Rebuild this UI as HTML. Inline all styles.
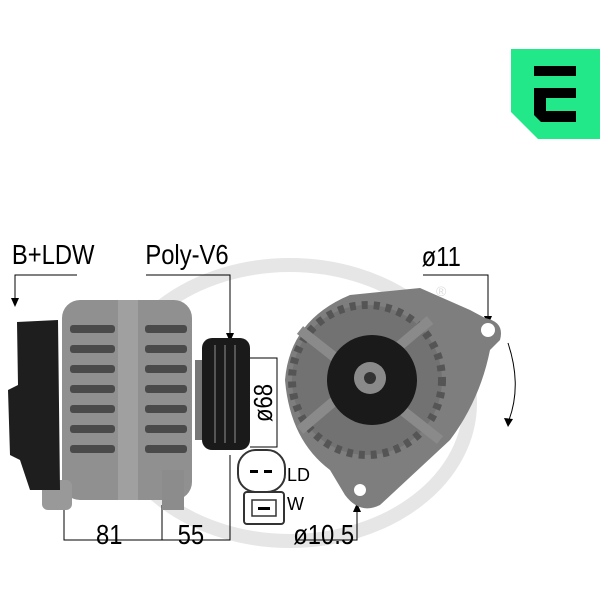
<!DOCTYPE html>
<html><head><style>html,body{margin:0;padding:0;background:#fff}svg{display:block}</style></head><body>
<svg width="600" height="600" viewBox="0 0 600 600" xmlns="http://www.w3.org/2000/svg" font-family="'Liberation Sans Narrow','Liberation Sans',sans-serif">
<!-- watermark -->
<ellipse cx="290" cy="403" rx="180" ry="138" fill="none" stroke="#e6e6e6" stroke-width="14"/>
<text x="436" y="296" font-size="14" fill="#ddd">®</text>
<!-- logo -->
<path d="M511 49 H600 V139 H538 L511 112 Z" fill="#22e88a"/>
<rect x="534" y="66" width="42" height="10" fill="#000"/>
<path d="M534 88 H576 V98 H546 V111 H576 V122 H541 L534 115 Z" fill="#000"/>
<!-- labels -->
<g font-size="28" fill="#000" transform="scale(0.85,1)">
<text x="14" y="264">B+LDW</text>
<text x="171" y="264">Poly-V6</text>
<text x="496" y="266">ø11</text>
<text x="113" y="544">81</text>
<text x="209" y="544">55</text>
<text x="345" y="544">ø10.5</text>
</g>
<g stroke="#000" stroke-width="1" fill="none">
<polyline points="77,275 15,275 15,300"/>
<polyline points="146,275 230,275 230,335"/>
<polyline points="423,275 488,275 488,318"/>
<polyline points="64,470 64,540 230,540 230,455"/>
<line x1="162" y1="505" x2="162" y2="540"/>
<polyline points="298,540 357,540 357,510"/>
<polyline points="250,358 277,358 277,447 250,447"/>
<path d="M508 343 Q522 385 509 420"/>
</g>
<g fill="#000">
<path d="M11 298 L19 298 L15 307 Z"/>
<path d="M226 333 L234 333 L230 342 Z"/>
<path d="M484 316 L492 316 L488 325 Z"/>
<path d="M353 512 L361 512 L357 503 Z"/>
<path d="M504 418 L513 419 L508 427 Z"/>
</g>
<text transform="translate(272,403) rotate(-90) scale(0.85,1)" text-anchor="middle" font-size="26">ø68</text>
<!-- left alternator -->
<rect x="62" y="300" width="130" height="200" rx="18" fill="#909090"/>
<g fill="#4a4a4a">
<rect x="70" y="325" width="45" height="8" rx="3"/><rect x="70" y="345" width="45" height="8" rx="3"/><rect x="70" y="365" width="45" height="8" rx="3"/><rect x="70" y="385" width="45" height="8" rx="3"/><rect x="70" y="405" width="45" height="8" rx="3"/><rect x="70" y="425" width="45" height="8" rx="3"/><rect x="70" y="445" width="45" height="8" rx="3"/>
<rect x="145" y="325" width="42" height="8" rx="3"/><rect x="145" y="345" width="42" height="8" rx="3"/><rect x="145" y="365" width="42" height="8" rx="3"/><rect x="145" y="385" width="42" height="8" rx="3"/><rect x="145" y="405" width="42" height="8" rx="3"/><rect x="145" y="425" width="42" height="8" rx="3"/><rect x="145" y="445" width="42" height="8" rx="3"/>
</g>
<rect x="118" y="300" width="20" height="200" fill="#a0a0a0"/>
<rect x="42" y="480" width="30" height="30" rx="6" fill="#999"/>
<rect x="162" y="470" width="22" height="40" fill="#8c8c8c"/>
<path d="M17 322 L58 320 L60 490 L30 490 L20 460 L10 455 L8 390 L18 385 Z" fill="#1e1e1e"/>
<rect x="195" y="360" width="10" height="80" fill="#777"/>
<rect x="202" y="338" width="48" height="112" rx="10" fill="#1a1a1a"/>
<g stroke="#555" stroke-width="2"><line x1="215" y1="345" x2="215" y2="443"/><line x1="225" y1="345" x2="225" y2="443"/><line x1="235" y1="345" x2="235" y2="443"/></g>
<!-- right alternator -->
<path d="M350 295 L420 288 L470 310 L485 318 Q505 322 500 340 L490 350 Q480 400 450 440 L380 505 Q360 515 345 495 L330 470 Q290 440 285 380 Q290 320 350 295 Z" fill="#7e7e7e"/>
<circle cx="367" cy="380" r="75" fill="#727272"/>
<circle cx="367" cy="380" r="75" fill="none" stroke="#555" stroke-width="8" stroke-dasharray="6 6"/>
<g stroke="#8a8a8a" stroke-width="10"><line x1="300" y1="330" x2="440" y2="440"/><line x1="300" y1="430" x2="430" y2="320"/></g>
<circle cx="488" cy="330" r="7" fill="#fff"/>
<circle cx="360" cy="490" r="6" fill="#fff"/>
<circle cx="372" cy="380" r="45" fill="#1a1a1a"/>
<circle cx="370" cy="378" r="16" fill="#8a8a8a"/>
<circle cx="370" cy="378" r="6" fill="#333"/>
<!-- connectors -->
<rect x="238" y="450" width="47" height="42" rx="18" fill="#fff" stroke="#333" stroke-width="2"/>
<g fill="#000"><rect x="250" y="470" width="8" height="3"/><rect x="264" y="470" width="8" height="3"/></g>
<rect x="244" y="492" width="40" height="32" rx="3" fill="#fff" stroke="#333" stroke-width="2"/>
<rect x="252" y="500" width="24" height="16" fill="#fff" stroke="#333" stroke-width="1.5"/>
<rect x="258" y="507" width="12" height="3" fill="#000"/>
<text x="287" y="481" font-size="18">LD</text>
<text x="287" y="510" font-size="18">W</text>
</svg>
</body></html>
